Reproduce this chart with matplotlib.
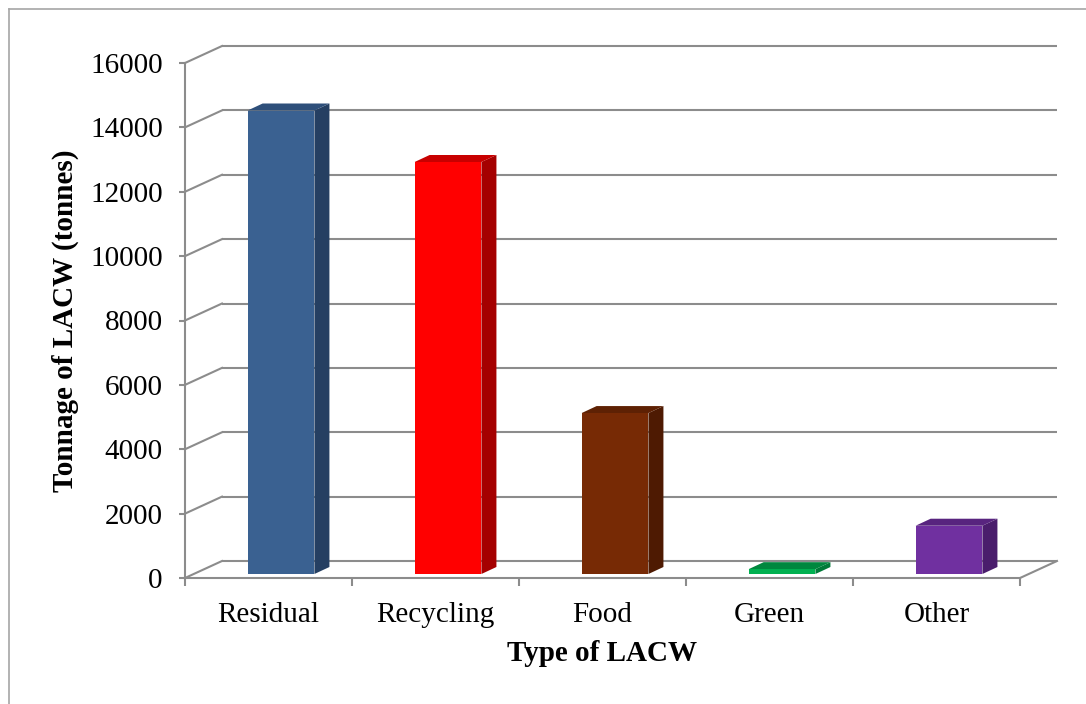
import matplotlib.pyplot as plt
from matplotlib.patches import Polygon, Rectangle
from matplotlib.lines import Line2D

categories = ['Residual', 'Recycling', 'Food', 'Green', 'Other']
tonnage = [14400, 12800, 5000, 150, 1500]
y_ticks = [0, 2000, 4000, 6000, 8000, 10000, 12000, 14000, 16000]

front_colors = ['#3A6191', '#FF0000', '#772A05', '#00B050', '#7030A0']
side_colors = ['#253F62', '#A50000', '#4E1A02', '#007A38', '#4A1D6C']
top_colors = ['#2E4F7A', '#C80000', '#5E2104', '#00873E', '#58247F']

plt.rcParams['font.family'] = ['Liberation Serif', 'DejaVu Serif']
grid_col = '#8C8C8C'
lw = 1.5
fs = 21

fig = plt.figure(figsize=(10.86, 7.04), dpi=100)
ax = fig.add_axes([185 / 1086, 1 - 578 / 704, 835 / 1086, 515 / 704])
ax.set_xlim(0, 5)
ax.set_ylim(0, 16000)

# oblique offset of back wall (in data units)
wdx = 37 / 167
wdy = 17 * 16000 / 515

for v in y_ticks:
    # back wall gridline
    ax.plot([wdx, 5 + wdx], [v + wdy, v + wdy], color=grid_col, lw=lw,
            clip_on=False, zorder=1, solid_capstyle='butt')
    # side wall slant
    ax.plot([0, wdx], [v, v + wdy], color=grid_col, lw=lw,
            clip_on=False, zorder=1)
# floor right edge
ax.plot([5, 5 + wdx], [0, wdy], color=grid_col, lw=lw, clip_on=False, zorder=1)

# bars
bw = 0.40
bdx = 15 / 167
bdy = 7 * 16000 / 515
base = 4 * 16000 / 515
for i, v in enumerate(tonnage):
    x0 = i + 0.375
    x1 = x0 + bw
    y0 = base
    y1 = base + v
    ax.add_patch(Polygon([(x1, y0), (x1 + bdx, y0 + bdy), (x1 + bdx, y1 + bdy), (x1, y1)],
                         closed=True, facecolor=side_colors[i], edgecolor='none',
                         zorder=3, clip_on=False))
    ax.add_patch(Polygon([(x0, y1), (x1, y1), (x1 + bdx, y1 + bdy), (x0 + bdx, y1 + bdy)],
                         closed=True, facecolor=top_colors[i], edgecolor='none',
                         zorder=3, clip_on=False))
    ax.add_patch(Rectangle((x0, y0), bw, v, facecolor=front_colors[i],
                           edgecolor='none', zorder=4, clip_on=False))

for s in ['top', 'right']:
    ax.spines[s].set_visible(False)
for s in ['left', 'bottom']:
    ax.spines[s].set_color(grid_col)
    ax.spines[s].set_linewidth(lw)
    ax.spines[s].set_zorder(5)

ax.set_yticks(y_ticks)
ax.set_yticklabels([str(t) for t in y_ticks], fontsize=fs)
ax.tick_params(axis='y', length=4, width=lw, color=grid_col, pad=12)

ax.set_xticks([i + 0.5 for i in range(len(categories))])
ax.set_xticklabels(categories, fontsize=fs)
ax.set_xticks(range(len(categories) + 1), minor=True)
ax.tick_params(axis='x', which='major', length=0, pad=17)
ax.tick_params(axis='x', which='minor', length=6, width=lw, color=grid_col)

ax.set_xlabel('Type of LACW', fontsize=fs, fontweight='bold', labelpad=9)
ax.set_ylabel('Tonnage of LACW (tonnes)', fontsize=fs, fontweight='bold', labelpad=8)
ax.patch.set_visible(False)

# outer chart frame (left and top visible)
fig.add_artist(Line2D([9 / 1086, 9 / 1086], [0, 1 - 9 / 704], color='#A6A6A6',
                      lw=1.2, transform=fig.transFigure))
fig.add_artist(Line2D([9 / 1086, 1], [1 - 9 / 704, 1 - 9 / 704], color='#A6A6A6',
                      lw=1.2, transform=fig.transFigure))

fig.savefig('out.png', dpi=100)
